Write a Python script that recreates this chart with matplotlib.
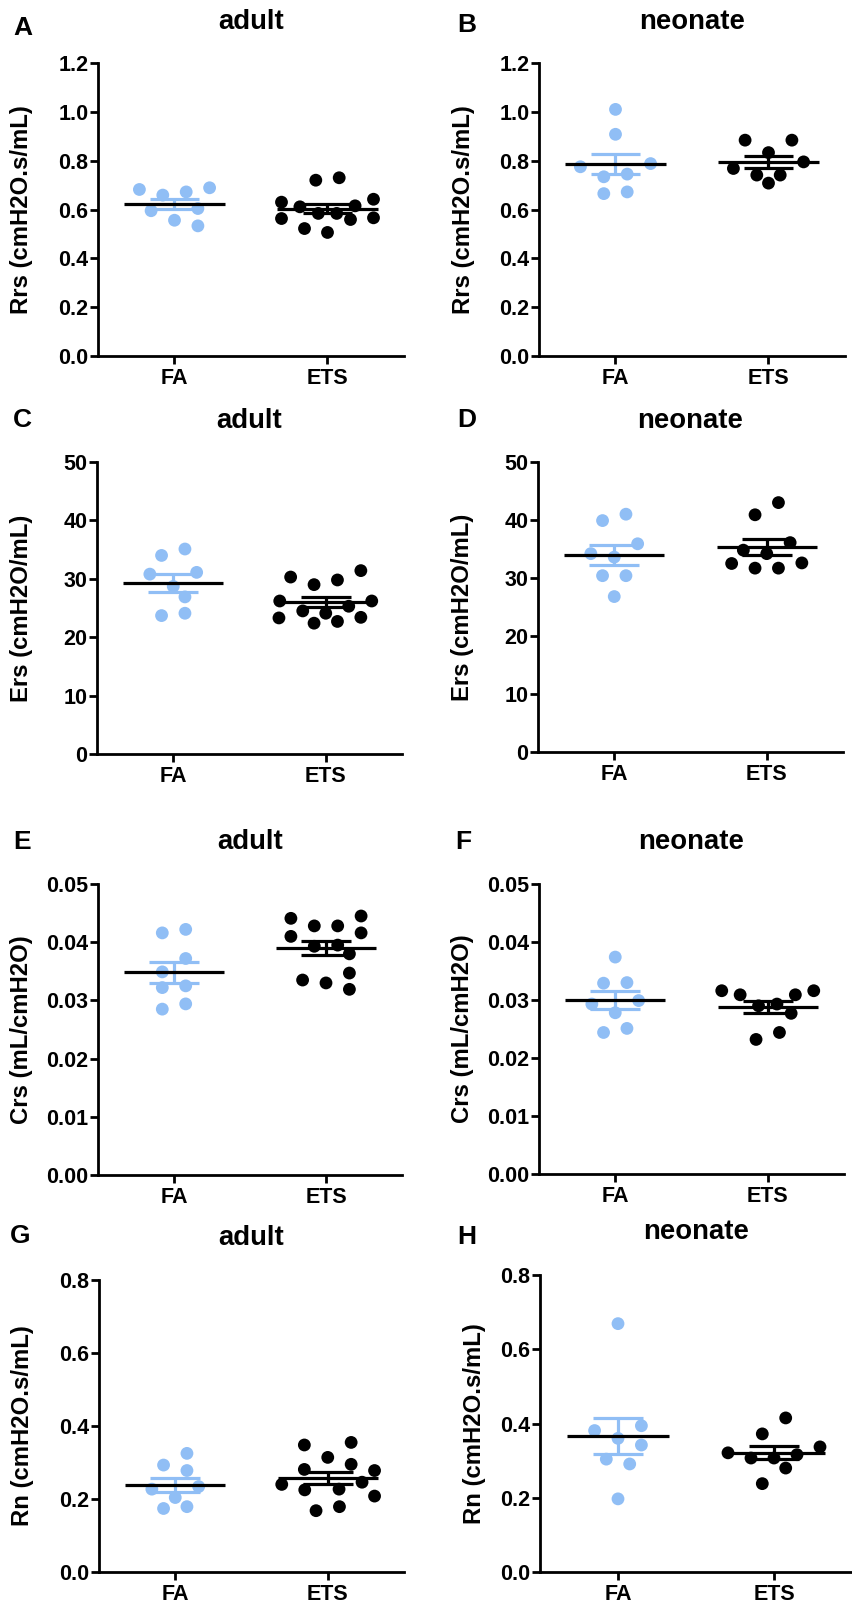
import matplotlib
matplotlib.use("Agg")
import matplotlib.pyplot as plt
import numpy as np

# ---------------- data ----------------
groups = ["FA", "ETS"]

rrs_adult_fa = [0.682, 0.659, 0.672, 0.689, 0.595, 0.604, 0.533, 0.556]
rrs_adult_ets = [0.720, 0.730, 0.630, 0.611, 0.642, 0.615, 0.584, 0.559,
                 0.584, 0.563, 0.566, 0.506, 0.522]
rrs_neo_fa = [1.010, 0.908, 0.775, 0.788, 0.745, 0.734, 0.665, 0.672]
rrs_neo_ets = [0.884, 0.884, 0.833, 0.795, 0.768, 0.741, 0.741, 0.708]

ers_adult_fa = [34.0, 35.1, 30.8, 31.1, 26.9, 28.7, 23.7, 24.1]
ers_adult_ets = [31.4, 29.8, 30.3, 29.0, 25.3, 24.5, 26.2, 23.3, 24.1,
                 26.2, 22.7, 22.4, 23.4]
ers_neo_fa = [41.0, 39.9, 35.9, 34.2, 33.6, 30.4, 30.4, 26.8]
ers_neo_ets = [43.0, 40.9, 36.1, 34.2, 34.8, 32.6, 31.7, 31.7, 32.5]

crs_adult_fa = [0.0416, 0.0422, 0.0372, 0.0349, 0.0322, 0.0325, 0.0285, 0.0294]
crs_adult_ets = [0.0445, 0.0441, 0.0428, 0.0428, 0.0410, 0.0416, 0.0395,
                 0.0393, 0.0380, 0.0347, 0.0319, 0.0330, 0.0335]
crs_neo_fa = [0.0374, 0.0329, 0.0330, 0.0299, 0.0293, 0.0278, 0.0244, 0.0251]
crs_neo_ets = [0.0316, 0.0309, 0.0309, 0.0316, 0.0290, 0.0293, 0.0277,
               0.0232, 0.0244]

rn_adult_fa = [0.325, 0.278, 0.293, 0.234, 0.227, 0.204, 0.174, 0.179]
rn_adult_ets = [0.355, 0.348, 0.314, 0.295, 0.281, 0.278, 0.240, 0.246,
                0.225, 0.227, 0.208, 0.168, 0.179]
rn_neo_fa = [0.669, 0.381, 0.394, 0.360, 0.342, 0.291, 0.304, 0.197]
rn_neo_ets = [0.415, 0.372, 0.337, 0.307, 0.321, 0.316, 0.307, 0.280, 0.238]

panel_letters = ["A", "B", "C", "D", "E", "F", "G", "H"]
panel_titles = ["adult", "neonate"] * 4
y_labels = ["Rrs (cmH2O.s/mL)", "Rrs (cmH2O.s/mL)",
            "Ers (cmH2O/mL)", "Ers (cmH2O/mL)",
            "Crs (mL/cmH2O)", "Crs (mL/cmH2O)",
            "Rn (cmH2O.s/mL)", "Rn (cmH2O.s/mL)"]
ticks_rrs = [0.0, 0.2, 0.4, 0.6, 0.8, 1.0, 1.2]
ticklabels_rrs = ["0.0", "0.2", "0.4", "0.6", "0.8", "1.0", "1.2"]
ticks_ers = [0, 10, 20, 30, 40, 50]
ticklabels_ers = ["0", "10", "20", "30", "40", "50"]
ticks_crs = [0.00, 0.01, 0.02, 0.03, 0.04, 0.05]
ticklabels_crs = ["0.00", "0.01", "0.02", "0.03", "0.04", "0.05"]
ticks_rn = [0.0, 0.2, 0.4, 0.6, 0.8]
ticklabels_rn = ["0.0", "0.2", "0.4", "0.6", "0.8"]

panel_data = [
    (rrs_adult_fa, rrs_adult_ets, ticks_rrs, ticklabels_rrs),
    (rrs_neo_fa, rrs_neo_ets, ticks_rrs, ticklabels_rrs),
    (ers_adult_fa, ers_adult_ets, ticks_ers, ticklabels_ers),
    (ers_neo_fa, ers_neo_ets, ticks_ers, ticklabels_ers),
    (crs_adult_fa, crs_adult_ets, ticks_crs, ticklabels_crs),
    (crs_neo_fa, crs_neo_ets, ticks_crs, ticklabels_crs),
    (rn_adult_fa, rn_adult_ets, ticks_rn, ticklabels_rn),
    (rn_neo_fa, rn_neo_ets, ticks_rn, ticklabels_rn),
]

# ---------------- layout (pixels) ----------------
W, H = 853, 1616
# axes boxes: left, right, top, bottom
boxes = [(98, 404, 63, 356), (539, 845, 63, 356),
         (97, 402, 462, 754), (538, 843, 462, 752),
         (98, 402, 884, 1175), (539, 844, 884, 1174),
         (99, 404, 1280, 1572), (540, 852, 1275, 1572)]
ylabel_x = [22, 464, 22, 463, 22, 463, 23, 475]
title_base = [29, 29, 428, 428, 849, 849, 1245, 1239]
letter_pos = [(13, 35), (457, 32), (13, 427), (457, 427),
              (13, 849), (455, 849), (10, 1243), (457, 1244)]

colors = ["#90BEF5", "#000000"]
LW = 2.0
DOT_D = 12.8  # marker diameter, px

plt.rcParams["font.family"] = ["Liberation Sans", "DejaVu Sans"]
plt.rcParams["font.weight"] = "bold"

fig = plt.figure(figsize=(W / 100, H / 100), dpi=100)


def scatter_offsets(values, ypx, grid=11.7, spacing=23.4, half_width=46.0,
                    row_h=16.0, d=14.0):
    """Row-wise scatter layout (px offsets): values close together share a
    row and are centred around the group position; any remaining overlap is
    resolved by moving along a fixed horizontal grid."""
    vals = np.asarray(values, dtype=float)
    order = np.argsort(-vals, kind="stable")
    rows = []
    for i in order:
        if rows and (vals[rows[-1][0]] - vals[i]) * ypx <= row_h:
            rows[-1].append(i)
        else:
            rows.append([i])
    offs = np.zeros(len(vals))
    placed = []
    for row in rows:
        n = len(row)
        sp = spacing if n < 2 else min(spacing, 2 * half_width / (n - 1))
        slots = [(k - (n - 1) / 2.0) * sp for k in range(n)]
        slots = sorted(slots, key=lambda s: (-abs(s), -s))
        for i, pref in zip(row, slots):
            y = vals[i] * ypx
            cands = sorted({pref + k * grid for k in range(-10, 11)},
                           key=lambda c: (abs(c - pref), abs(c)))
            for c in cands:
                if all((c - px) ** 2 + (y - py) ** 2 >= d * d
                       for px, py in placed):
                    break
            placed.append((c, y))
            offs[i] = c
    return offs


for i, (fa, ets, ticks, tlabels) in enumerate(panel_data):
    x0, x1, yt, yb = boxes[i]
    ax = fig.add_axes([x0 / W, 1 - yb / H, (x1 - x0) / W, (yb - yt) / H])
    ymax = ticks[-1]
    ax.set_xlim(-0.5, 1.5)
    ax.set_ylim(0, ymax)
    xpx = (x1 - x0) / 2.0
    ypx = (yb - yt) / ymax

    for g, vals in enumerate([fa, ets]):
        vals = np.asarray(vals, dtype=float)
        offs = scatter_offsets(vals, ypx) / xpx
        ax.scatter(g + offs, vals, s=(DOT_D * 0.72) ** 2, color=colors[g],
                   edgecolors="none", zorder=2, clip_on=False)
        m = vals.mean()
        sem = vals.std(ddof=1) / np.sqrt(len(vals))
        ax.vlines(g, m - sem, m + sem, color=colors[g], lw=2.3, zorder=3)
        ax.hlines([m - sem, m + sem], g - 0.163, g + 0.163,
                  color=colors[g], lw=2.3, zorder=3)
        ax.hlines(m, g - 0.327, g + 0.327, color="black", lw=2.3, zorder=4)

    for side in ("top", "right"):
        ax.spines[side].set_visible(False)
    for side in ("left", "bottom"):
        ax.spines[side].set_linewidth(LW)
    ax.set_xticks([0, 1])
    ax.set_xticklabels(groups, fontsize=15.5, fontweight="bold")
    ax.set_yticks(ticks)
    ax.set_yticklabels(tlabels, fontsize=15.5, fontweight="bold")
    ax.tick_params(axis="both", width=LW, length=5.5, direction="out")
    ax.tick_params(axis="y", pad=1.5)
    ax.tick_params(axis="x", pad=3)

    yc = (yt + yb) / 2.0
    fig.text(ylabel_x[i] / W, 1 - yc / H, y_labels[i], rotation=90,
             ha="center", va="center", fontsize=17.2, fontweight="bold")
    fig.text((x0 + x1) / 2.0 / W, 1 - title_base[i] / H, panel_titles[i],
             ha="center", va="baseline", fontsize=19.8, fontweight="bold")
    lx, ly = letter_pos[i]
    fig.text(lx / W, 1 - ly / H, panel_letters[i], ha="left",
             va="baseline", fontsize=19, fontweight="bold")

fig.savefig("out.png", dpi=100)
